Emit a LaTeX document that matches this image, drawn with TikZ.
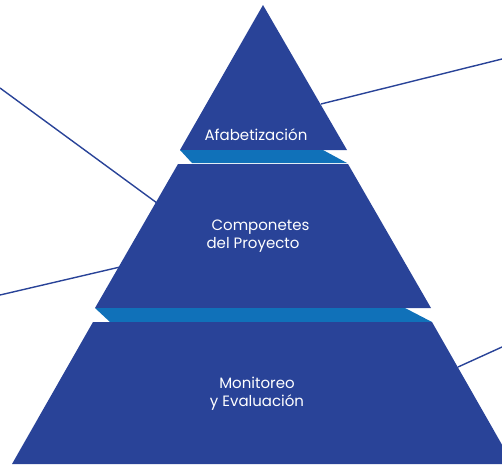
\documentclass[tikz,border=0pt]{standalone}
\usepackage{fontspec}
\setmainfont{Poppins}
\definecolor{pyrblue}{RGB}{41,67,152}
\definecolor{foldblue}{RGB}{16,113,185}
\tikzset{
  layer/.style={fill=pyrblue, draw=none},
  fold/.style={fill=foldblue, draw=none},
  label/.style={text=white, font=\fontsize{15}{18}\selectfont, inner sep=0pt},
  link/.style={draw=pyrblue, line width=1.4pt}
}
\begin{document}
\begin{tikzpicture}[x=1pt, y=-1pt]

    \useasboundingbox (0,0) rectangle (502,467);
    \clip (0,0) rectangle (502,467);
    % corners of the layers
    \coordinate (top) at (263,5);
    \coordinate (A1) at (180,150);
    \coordinate (A2) at (347,150);
    \coordinate (B1) at (178,164);
    \coordinate (B2) at (348,164);
    \coordinate (B3) at (431,308);
    \coordinate (B4) at (95,308);
    \coordinate (C1) at (93,322);
    \coordinate (C2) at (432,322);
    \coordinate (C3) at (513,464);
    \coordinate (C4) at (12,464);

    % draw the layers and the folds between them
    \fill[layer] (top) -- (A2) -- (A1) -- cycle;
    \fill[fold] (A1) -- (323,150) -- (347,163) -- (192,163) -- cycle;
    \fill[layer] (B1) -- (B2) -- (B3) -- (B4) -- cycle;
    \fill[fold] (B4) -- (405,308) -- (432,322) -- (110,322) -- cycle;
    \fill[layer] (C1) -- (C2) -- (C3) -- (C4) -- cycle;

    % ends of the connectors
    \coordinate (l1) at (0,88);
    \coordinate (e1) at (157,203);
    \coordinate (l2) at (0,295);
    \coordinate (e2) at (120,267);
    \coordinate (r1) at (502,59);
    \coordinate (e3) at (321,104);
    \coordinate (r2) at (502,347);
    \coordinate (e4) at (458,367);
    \draw[link] (l1) -- (e1);
    \draw[link] (l2) -- (e2);
    \draw[link] (r1) -- (e3);
    \draw[link] (r2) -- (e4);

    % labels
    \node[label] (alfa) at (256,135) {Afabetización};
    \node[label, align=left] (comp) at (258,236) {\hspace*{5pt}Componetes\\del Proyecto};
    \node[label, align=center] (moni) at (257,394) {Monitoreo\\y Evaluación};
  \end{tikzpicture}
\end{document}
